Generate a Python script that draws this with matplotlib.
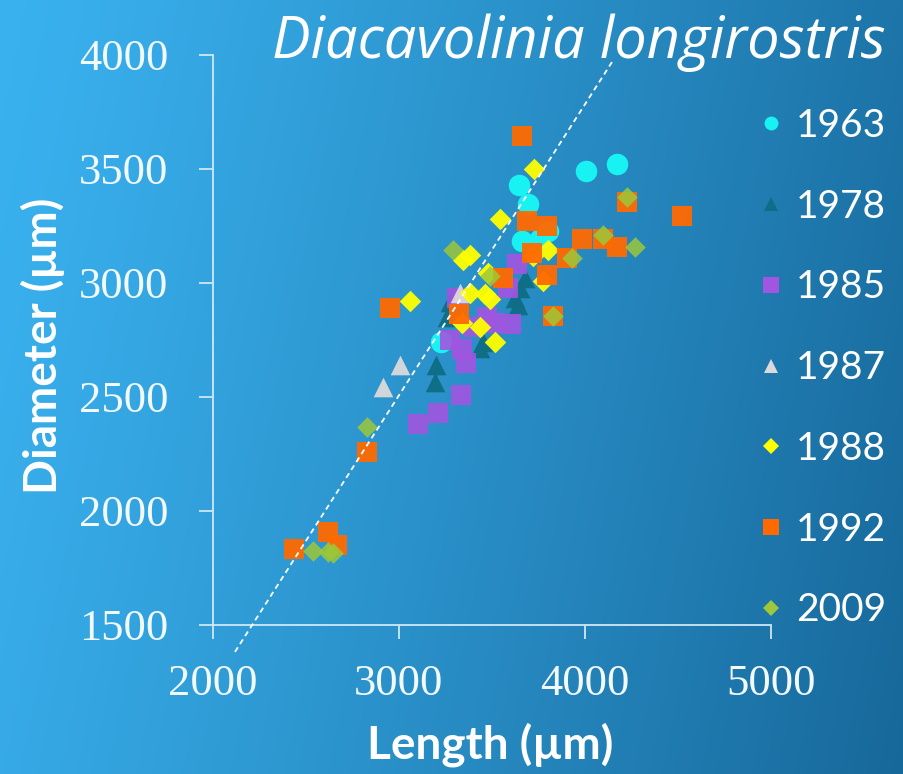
import numpy as np
import matplotlib
matplotlib.use("Agg")
import matplotlib.pyplot as plt
from matplotlib.lines import Line2D

# ---- data (length, diameter in µm) per sampling year ----
x_1963 = [3645, 4005, 4170, 3695, 3800, 3660, 3760, 3225]
y_1963 = [3430, 3490, 3520, 3345, 3230, 3185, 3195, 2740]

x_1978 = [3200, 3195, 3275, 3450, 3625, 3650, 3675, 3260, 3640, 3435]
y_1978 = [2640, 2565, 2915, 2740, 2935, 2980, 3020, 2850, 2905, 2715]

x_1985 = [3100, 3210, 3335, 3275, 3360, 3340, 3600, 3475, 3635, 3585, 3310, 3400, 3515]
y_1985 = [2380, 2430, 2510, 2750, 2650, 2710, 2820, 2850, 3085, 2980, 2935, 2805, 2825]

x_1987 = [3005, 2915, 3330]
y_1987 = [2640, 2545, 2955]

x_1988 = [3060, 3725, 3545, 3345, 3380, 3490, 3460, 3515, 3435, 3340, 3800, 3720, 3775, 3480, 3380]
y_1988 = [2920, 3500, 3280, 3100, 3125, 2930, 2950, 2740, 2805, 2825, 3145, 3120, 3010, 3045, 2955]

x_1992 = [3660, 2950, 2830, 2620, 2665, 2435, 3690, 3795, 3985, 4095, 4170, 4225,
          4520, 3715, 3905, 3795, 3560, 3830, 3325]
y_1992 = [3645, 2890, 2260, 1910, 1850, 1835, 3270, 3250, 3195, 3195, 3160, 3355,
          3295, 3130, 3110, 3035, 3020, 2855, 2865]

x_2009 = [4225, 4095, 4270, 3930, 3290, 3490, 3830, 2830, 2540, 2645, 2620]
y_2009 = [3378, 3210, 3160, 3110, 3145, 3030, 2855, 2370, 1825, 1815, 1820]

years = ["1963", "1978", "1985", "1987", "1988", "1992", "2009"]

# dashed guide line
guide_x = [2118, 4145]
guide_y = [1382, 3969]

x_ticks = [2000, 3000, 4000, 5000]
y_ticks = [1500, 2000, 2500, 3000, 3500, 4000]

# ---- styling ----
series = [
    (x_1963, y_1963, "o", "#19F2F2", 240, 1.0),
    (x_1978, y_1978, "^", "#0F6E85", 200, 0.95),
    (x_1985, y_1985, "s", "#A255E0", 210, 0.9),
    (x_1987, y_1987, "^", "#DADADA", 200, 0.95),
    (x_1988, y_1988, "D", "#FFFF00", 120, 0.95),
    (x_1992, y_1992, "s", "#FF6A00", 210, 0.95),
    (x_2009, y_2009, "D", "#9CC83A", 110, 0.85),
]
legend_sizes = [10, 10, 11, 10, 8, 11, 8]

W, H = 904, 774
fig = plt.figure(figsize=(W / 100, H / 100), dpi=100)

# gradient backdrop
bg = fig.add_axes([0, 0, 1, 1])
bg.set_axis_off()
gx = np.linspace(0, 1, 400)
gy = np.linspace(0, 1, 350)
GX, GY = np.meshgrid(gx, gy)
t = np.clip(0.85 * GX + 0.15 * GY, 0, 1) ** 1.15
c0 = np.array([58, 178, 240]) / 255.0
c1 = np.array([23, 104, 154]) / 255.0
img = c0[None, None, :] * (1 - t[..., None]) + c1[None, None, :] * t[..., None]
bg.imshow(img, aspect="auto", extent=[0, 1, 0, 1], origin="upper")
bg.set_zorder(0)

ax = fig.add_axes([213 / W, 1 - 625 / H, 558 / W, 570 / H])
ax.set_zorder(1)
ax.patch.set_alpha(0)

for xs, ys, m, c, s, a in series:
    ax.scatter(xs, ys, marker=m, s=s, color=c, alpha=a, linewidths=0, clip_on=False)

ax.plot(guide_x, guide_y, color="white", lw=1.3, ls=(0, (3, 2.2)), clip_on=False, zorder=5)

ax.set_xlim(2000, 5000)
ax.set_ylim(1500, 4000)
ax.set_xticks(x_ticks)
ax.set_yticks(y_ticks)

spine_col = "#CFE8F6"
for side in ["top", "right"]:
    ax.spines[side].set_visible(False)
for side in ["left", "bottom"]:
    ax.spines[side].set_color(spine_col)
    ax.spines[side].set_linewidth(1.3)
ax.tick_params(axis="both", direction="out", length=10, width=1.3, color=spine_col,
               labelcolor="#F2F9FF", labelsize=32)
ax.tick_params(axis="y", pad=22)
ax.tick_params(axis="x", pad=18)
for lab in ax.get_xticklabels() + ax.get_yticklabels():
    lab.set_family("Liberation Serif")

ax.set_xlabel("Length (µm)", fontsize=33, fontweight="bold", color="white", family="Lato")
ax.xaxis.set_label_coords(0.496, -0.17)
ax.set_ylabel("Diameter (µm)", fontsize=33, fontweight="bold", color="white", family="Lato")
ax.yaxis.set_label_coords(-0.265, 0.49)

fig.text(272 / W, 1 - 58 / H, "Diacavolinia longirostris", fontsize=41.5, style="italic",
         color="white", family="Open Sans", ha="left", va="baseline")

handles = [Line2D([], [], ls="none", marker=m, color=c, markersize=ms, markeredgewidth=0)
           for (_, _, m, c, _, _), ms in zip(series, legend_sizes)]
leg = ax.legend(handles, years, loc="upper left", bbox_to_anchor=(757 / W, 1 - 108 / H),
                bbox_transform=fig.transFigure, frameon=False,
                handlelength=0.7, handletextpad=0.3, labelspacing=1.15, borderpad=0,
                borderaxespad=0, prop={"family": "Lato", "size": 28})
for txt in leg.get_texts():
    txt.set_color("white")

fig.savefig("out.png", dpi=100)
